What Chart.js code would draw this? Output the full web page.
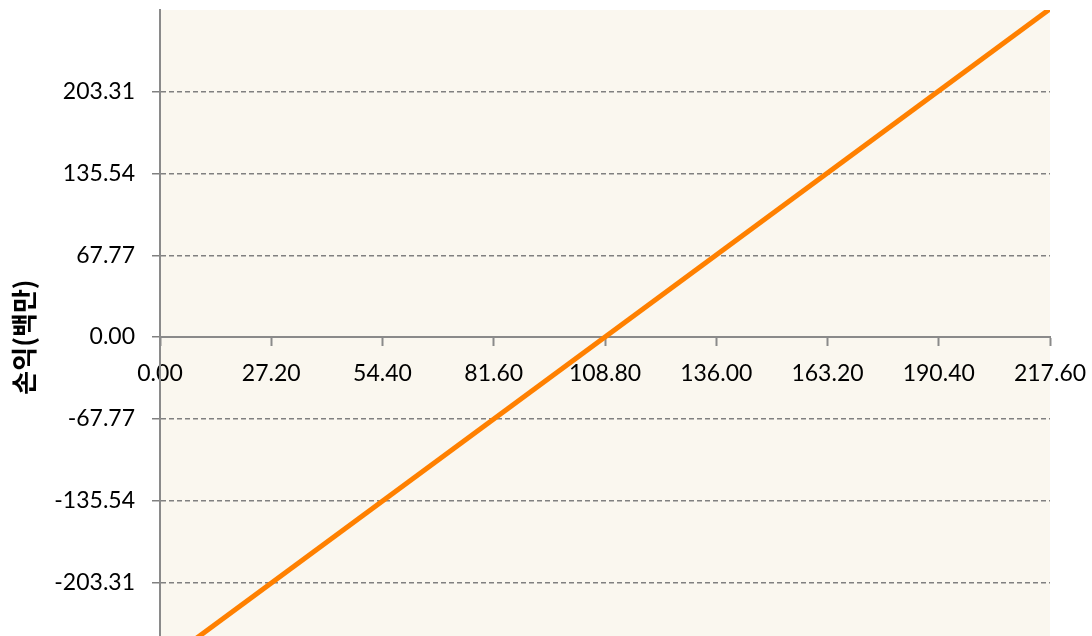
<!DOCTYPE html>
<html>
<head>
<meta charset="utf-8">
<script src="https://cdn.jsdelivr.net/npm/chart.js@4"></script>
<style>
  html, body { margin: 0; padding: 0; background: #fff; overflow: hidden; }
  #wrap { position: relative; width: 1092px; height: 664px; }
</style>
</head>
<body>
<div id="wrap"><canvas id="myChart"></canvas></div>
<script>
// 판매량 대비 손익 (백만)
var qty = [0, 217.6];
var profit = [-272.0, 272.0];
var xTicks = [0, 27.2, 54.4, 81.6, 108.8, 136.0, 163.2, 190.4, 217.6];
var yTicks = [-203.31, -135.54, -67.77, 0, 67.77, 135.54, 203.31];
var yMin = -271.08, yMax = 271.08;

var plotBg = {
  id: 'plotBg',
  beforeDraw: function(chart) {
    var a = chart.chartArea, c = chart.ctx;
    c.save();
    c.fillStyle = '#faf7ef';
    c.fillRect(a.left, a.top, a.right - a.left, a.bottom - a.top);
    c.restore();
  }
};

var points = qty.map(function(q, i) { return {x: q, y: profit[i]}; });
var tickFont = {family: 'Lato', size: 23};

new Chart(document.getElementById('myChart'), {
  type: 'line',
  data: {
    datasets: [{
      data: points,
      borderColor: '#ff8000',
      borderWidth: 5,
      pointRadius: 0,
      tension: 0,
      fill: false
    }]
  },
  options: {
    responsive: true,
    maintainAspectRatio: false,
    devicePixelRatio: 1,
    animation: false,
    layout: {padding: {top: 10, right: 42, bottom: 0, left: 0}},
    plugins: {legend: {display: false}, tooltip: {enabled: false}},
    scales: {
      x: {
        type: 'linear',
        position: {y: 0},
        min: 0,
        max: 217.6,
        afterBuildTicks: function(s) { s.ticks = xTicks.map(function(v) { return {value: v}; }); },
        afterFit: function(s) { s.height = 0; s.paddingLeft = 0; s.paddingRight = 0; },
        border: {color: '#8a8a8a', width: 2},
        grid: {drawOnChartArea: false, drawTicks: true, tickLength: 8, tickColor: '#8a8a8a', tickWidth: 2},
        ticks: {
          autoSkip: false,
          maxRotation: 0,
          padding: 15,
          color: '#000',
          font: tickFont,
          callback: function(v) { return Number(v).toFixed(2); }
        }
      },
      y: {
        type: 'linear',
        min: yMin,
        max: yMax,
        afterBuildTicks: function(s) { s.ticks = yTicks.map(function(v) { return {value: v}; }); },
        afterFit: function(s) { s.width = 160; s.paddingTop = 0; s.paddingBottom = 0; },
        border: {color: '#8a8a8a', width: 2, dash: [5, 3]},
        grid: {color: '#808080', lineWidth: 1.5, tickLength: 8, tickColor: '#808080', tickWidth: 1.5},
        ticks: {
          padding: 17,
          color: '#000',
          font: tickFont,
          callback: function(v) { return Math.abs(v) < 1e-9 ? '0.00' : Number(v).toFixed(2); }
        },
        title: {
          display: true,
          text: '손익(백만)',
          color: '#000',
          padding: {top: 9, bottom: 0},
          font: {family: '"Noto Sans CJK KR"', size: 26, weight: 'bold'}
        }
      }
    }
  },
  plugins: [plotBg]
});
</script>
</body>
</html>
